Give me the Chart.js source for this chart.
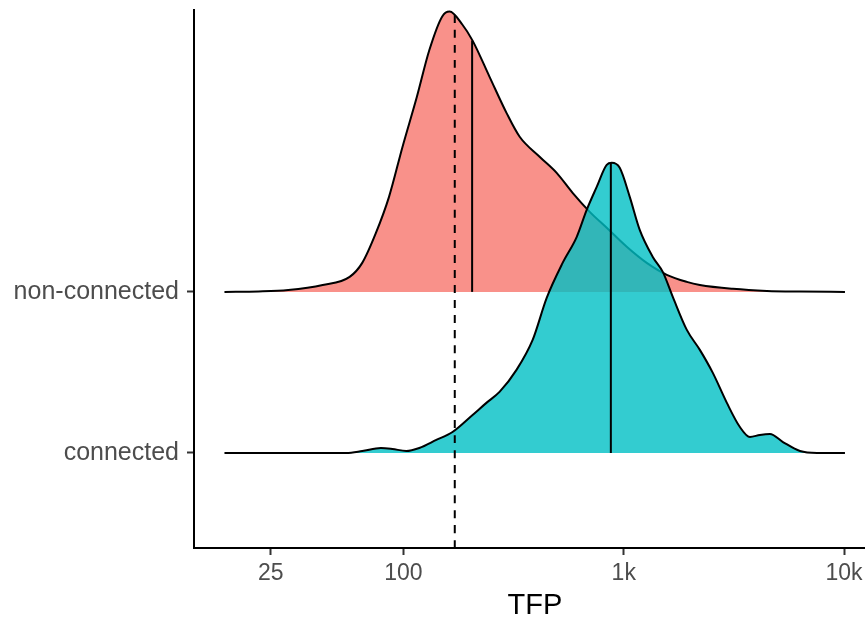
<!DOCTYPE html>
<html lang="en">
<head>
<meta charset="UTF-8" />
<title>TFP ridges</title>
<style>
  html, body { margin: 0; padding: 0; background: #fff; overflow: hidden; }
  #wrap { width: 876px; height: 620px; }
</style>
<script src="https://cdn.jsdelivr.net/npm/chart.js"></script>
</head>
<body>
<div id="wrap"><canvas id="chart" width="876" height="620"></canvas></div>
<script>
const groups = ["connected", "non-connected"];
const xTicks = [25, 100, 1000, 10000];
const xTickLabels = ["25", "100", "1k", "10k"];

// ridge heights are in units of the spacing between the two rows
const nonConnX = [15.4, 22, 30, 43, 57, 65, 75, 86, 99, 115, 131, 150, 162, 185, 206, 246, 294, 337,
  415, 496, 586, 701, 837, 1032, 1272, 1568, 1934, 2216, 3130, 4467, 6310, 10100];
const nonConnH = [0, 0.003, 0.012, 0.043, 0.093, 0.18, 0.366, 0.59, 0.90, 1.21, 1.50, 1.71, 1.74, 1.66,
  1.56, 1.335, 1.11, 0.963, 0.839, 0.739, 0.615, 0.497, 0.398, 0.280, 0.180, 0.106, 0.062, 0.043,
  0.019, 0.006, 0.002, 0];

const connX = [15.4, 55, 65, 79, 89, 103, 118, 141, 167, 206, 238, 273, 326, 386, 447, 528, 612, 679,
  754, 837, 882, 959, 1065, 1182, 1355, 1504, 1670, 1934, 2216, 2538, 2939, 3368, 3739, 4150, 4609,
  5281, 6310, 7540, 10100];
const connH = [0, 0, 0.012, 0.031, 0.025, 0.012, 0.031, 0.081, 0.130, 0.236, 0.311, 0.379, 0.516, 0.702,
  0.963, 1.18, 1.342, 1.509, 1.652, 1.789, 1.801, 1.770, 1.59, 1.385, 1.217, 1.124, 0.969, 0.764,
  0.640, 0.497, 0.311, 0.161, 0.099, 0.112, 0.118, 0.068, 0.012, 0, 0];

const medians = [874, 205];          // connected, non-connected
const medianHeights = [1.80, 1.56];
const overallRef = 171;              // dashed line

const family = "'Liberation Sans', Arial, sans-serif";

function ridge(xs, hs, base) {
    return xs.map((x, i) => ({ x: x, y: base + hs[i] }));
}

const ctx = document.getElementById("chart").getContext("2d");
new Chart(ctx, {
    type: "line",
    data: {
        datasets: [
            {
                data: ridge(nonConnX, nonConnH, 2),
                fill: { value: 2 },
                backgroundColor: "rgba(248, 118, 109, 0.8)",
                borderColor: "#000",
                borderWidth: 2,
                order: 4,
            },
            {
                data: [{ x: medians[1], y: 2 }, { x: medians[1], y: 2 + medianHeights[1] }],
                borderColor: "#000",
                borderWidth: 2,
                fill: false,
                order: 3,
            },
            {
                data: ridge(connX, connH, 1),
                fill: { value: 1 },
                backgroundColor: "rgba(0, 191, 196, 0.8)",
                borderColor: "#000",
                borderWidth: 2,
                order: 2,
            },
            {
                data: [{ x: medians[0], y: 1 }, { x: medians[0], y: 1 + medianHeights[0] }],
                borderColor: "#000",
                borderWidth: 2,
                fill: false,
                order: 1,
            },
            {
                data: [{ x: overallRef, y: 0.41 }, { x: overallRef, y: 3.75 }],
                borderColor: "#000",
                borderWidth: 2,
                borderDash: [8, 7],
                fill: false,
                order: 0,
            },
        ],
    },
    options: {
        responsive: false,
        animation: false,
        layout: { padding: { top: 10, right: 0, bottom: 0, left: 0 } },
        plugins: { legend: { display: false }, tooltip: { enabled: false } },
        elements: {
            point: { radius: 0 },
            line: { cubicInterpolationMode: "monotone" },
        },
        scales: {
            x: {
                type: "logarithmic",
                min: 11.2,
                max: 13970,
                afterBuildTicks: (s) => { s.ticks = xTicks.map((v) => ({ value: v })); },
                afterFit: (s) => { s.height = 72; },
                grid: { drawOnChartArea: false, tickLength: 7, tickColor: "#333", tickWidth: 2 },
                border: { color: "#000", width: 2 },
                ticks: {
                    color: "#4D4D4D",
                    font: { family: family, size: 23 },
                    padding: 5,
                    maxRotation: 0,
                    autoSkip: false,
                    callback: (v, i) => xTickLabels[i],
                },
                title: {
                    display: true,
                    text: "TFP",
                    color: "#000",
                    font: { family: family, size: 29, lineHeight: 1 },
                    padding: { top: 0, bottom: 0 },
                },
            },
            y: {
                min: 0.41,
                max: 3.75,
                afterBuildTicks: (s) => { s.ticks = [{ value: 1 }, { value: 2 }]; },
                afterFit: (s) => { s.width = 194; s.paddingTop = 0; s.paddingBottom = 0; },
                grid: { drawOnChartArea: false, tickLength: 7, tickColor: "#333", tickWidth: 2 },
                border: { color: "#000", width: 2 },
                ticks: {
                    color: "#4D4D4D",
                    font: { family: family, size: 25 },
                    padding: 8,
                    autoSkip: false,
                    callback: (v) => groups[Math.round(v) - 1],
                },
            },
        },
    },
});
</script>
</body>
</html>
